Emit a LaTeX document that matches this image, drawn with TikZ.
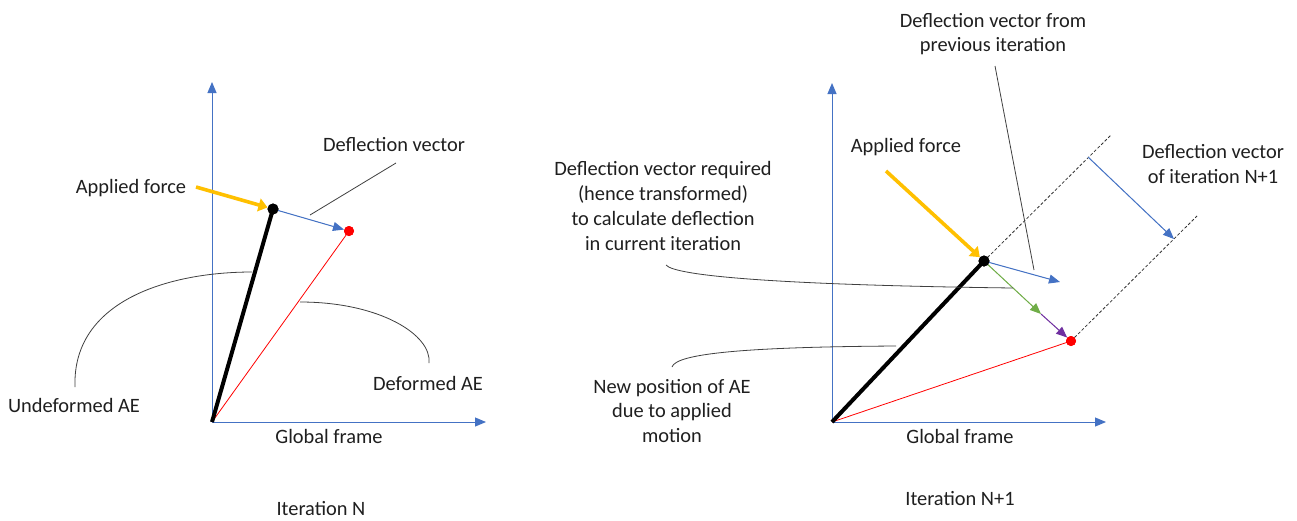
\documentclass[tikz,border=0pt]{standalone}
\usepackage{fontspec}
\setmainfont{Carlito}
\usetikzlibrary{arrows.meta}
\definecolor{ablue}{HTML}{4472C4}
\definecolor{aorange}{HTML}{FFC000}
\definecolor{agreen}{HTML}{70AD47}
\definecolor{apurple}{HTML}{7030A0}
\definecolor{ared}{HTML}{FF0000}
\begin{document}
\begin{tikzpicture}[x=1pt,y=-1pt,
  lbl/.style={inner sep=0pt, align=center, font=\fontsize{20.4}{24.8}\selectfont, text=black!88},
  axis/.style={draw=ablue, line width=1pt, -{Triangle[length=11pt,width=9pt]}},
  thinarr/.style={line width=1pt, -{Triangle[length=11pt,width=9pt]}},
  force/.style={draw=aorange, line width=3.6pt, -{Triangle[length=9pt,width=13pt]}},
  bar/.style={draw=black, line width=4pt},
  dotb/.style={circle, fill=black, inner sep=0pt, minimum size=11pt},
  dotr/.style={circle, fill=ared, inner sep=0pt, minimum size=10pt},
  leader/.style={draw=black!75, line width=0.8pt},
  guide/.style={draw=black!80, line width=0.8pt, dash pattern=on 3pt off 2pt},
]
\useasboundingbox (0,0) rectangle (1297,520);
\fill[white] (0,0) rectangle (1297,520);

% ---------------- Left: Iteration N ----------------
\coordinate (O1) at (212,422);
\coordinate (Y1) at (212,82);
\coordinate (X1) at (486,422);
\node[dotb] (A1) at (273,209) {};
\node[dotr] (R1) at (349,231) {};
\coordinate (F1) at (196,187);

\draw[axis] (O1) -- (Y1);
\draw[axis] (O1) -- (X1);
\draw[draw=ared, line width=0.8pt] (O1) -- (R1.center);
\draw[bar] (O1) -- (A1.center);
\draw[thinarr, draw=ablue, fill=ablue] (A1.center) -- (R1);
\draw[force] (F1) -- (A1);
\node[dotb] at (A1) {};
\node[dotr] at (R1) {};

\node[lbl] (af1) at (131,188) {Applied force};
\node[lbl] (dv1) at (394,145) {Deflection vector};
\node[lbl] (und) at (74,405) {Undeformed AE};
\node[lbl] (def) at (428,383) {Deformed AE};
\node[lbl] (gf1) at (329,436) {Global frame};
\node[lbl] (it1) at (321,509) {Iteration N};

\coordinate (dv1a) at (396,163);
\coordinate (dv1b) at (310,215);
\draw[leader] (dv1a) -- (dv1b);
\coordinate (und1) at (75,387);
\coordinate (und2) at (252,272);
\draw[leader] (und1) .. controls (72,300) and (170,272) .. (und2);
\coordinate (def1) at (300,302);
\coordinate (def2) at (429,363);
\draw[leader] (def1) .. controls (380,302) and (432,335) .. (def2);

% ---------------- Right: Iteration N+1 ----------------
\coordinate (O2) at (832,422);
\coordinate (Y2) at (832,83);
\coordinate (X2) at (1106,422);
\node[dotb] (A2) at (984,261) {};
\node[dotr] (R2) at (1071,341) {};
\coordinate (F2) at (886,171);
\coordinate (D1) at (1111,135);
\coordinate (D2) at (1197,216);
\coordinate (G2) at (1041,314);
\coordinate (B2) at (1060,282);
\coordinate (N1) at (1088,157);
\coordinate (N2) at (1174,239);

\draw[axis] (O2) -- (Y2);
\draw[axis] (O2) -- (X2);
\draw[draw=ared, line width=0.8pt] (O2) -- (R2.center);
\draw[guide] (A2.center) -- (D1);
\draw[guide] (R2.center) -- (D2);
\draw[bar] (O2) -- (A2.center);
\draw[thinarr, draw=ablue, fill=ablue] (A2.center) -- (B2);
\draw[thinarr, draw=agreen, fill=agreen] (A2.center) -- (G2);
\draw[thinarr, draw=apurple, fill=apurple] (G2) -- (R2);
\draw[thinarr, draw=ablue, fill=ablue] (N1) -- (N2);
\draw[force] (F2) -- (A2);
\node[dotb] at (A2) {};
\node[dotr] at (R2) {};

\node[lbl] (af2) at (906,147) {Applied force};
\node[lbl] (dvp) at (993,34) {Deflection vector from\\previous iteration};
\node[lbl] (dvn) at (1213,164) {Deflection vector\\of iteration N+1};
\node[lbl] (req) at (663,206) {Deflection vector required\\(hence transformed)\\to calculate deflection\\in current iteration};
\node[lbl] (np) at (672,411) {New position of AE\\due to applied\\motion};
\node[lbl] (gf2) at (960,436) {Global frame};
\node[lbl] (it2) at (960,499) {Iteration N+1};

\coordinate (dvpa) at (995,66);
\coordinate (dvpb) at (1034,270);
\draw[leader] (dvpa) -- (dvpb);
\coordinate (req1) at (666,265);
\coordinate (req2) at (1013,288);
\draw[leader] (req1) .. controls (675,276) and (780,285) .. (req2);
\coordinate (np1) at (672,367);
\coordinate (np2) at (896,346);
\draw[leader] (np1) .. controls (676,354) and (740,347) .. (np2);
\end{tikzpicture}
\end{document}
